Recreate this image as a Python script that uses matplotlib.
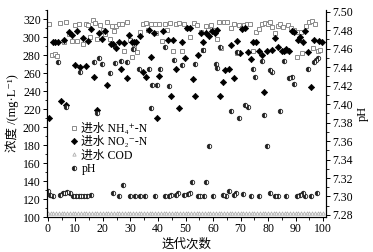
import matplotlib
matplotlib.use("Agg")
import matplotlib.pyplot as plt
from matplotlib.ticker import MultipleLocator

# ---------------- data ----------------
nh4_x = [0.5, 1.5, 2.5, 3.5, 4.6, 5.8, 6.5, 7.8, 8.8, 9.8, 10.5, 11.4, 12.8, 13.7, 14.6, 15.4,
         16.3, 17.3, 18.0, 19.0, 20.0, 20.7, 21.4, 22.5, 23.3, 24.0, 24.8, 25.8, 26.9, 27.7,
         28.7, 29.9, 30.6, 31.3, 32.5, 33.5, 34.5, 35.6, 36.5, 37.4, 38.9, 39.3, 40.3, 41.5,
         42.7, 43.2, 44.4, 45.6, 46.4, 47.5, 48.7, 49.3, 50.5, 51.7, 52.9, 54.3, 55.6, 56.5,
         57.3, 58.3, 59.3, 60.2, 61.4, 62.3, 62.9, 63.8, 65.2, 66.5, 67.7, 68.7, 69.4, 70.5,
         71.3, 72.3, 73.5, 74.5, 75.5, 76.6, 77.6, 78.8, 79.8, 80.7, 81.5, 82.5, 83.5, 84.4,
         85.4, 86.2, 87.3, 88.3, 89.3, 90.3, 90.9, 91.9, 92.3, 93.9, 95.0, 95.8, 96.4, 97.0,
         98.2, 98.9]
nh4_y = [314, 280, 281, 279, 316, 295, 317, 303, 296, 313, 296, 315, 292, 314, 313, 300,
         319, 316, 298, 313, 308, 303, 317, 298, 312, 307, 312, 314, 314, 285,
         317, 297, 278, 288, 283, 306, 314, 316, 308, 314, 314, 305, 315, 296,
         314, 308, 316, 284, 315, 316, 285, 315, 310, 300, 316, 313, 306, 286,
         312, 308, 313, 308, 298, 317, 288, 317, 317, 310, 314, 282, 313, 310,
         313, 314, 314, 284, 306, 309, 314, 316, 314, 317, 311, 305, 312, 314,
         311, 285, 313, 310, 308, 278, 306, 306, 282, 312, 317, 318, 288, 314,
         284, 286]

no2_x = [0.6, 1.8, 2.7, 3.7, 4.7, 5.7, 6.6, 7.7, 8.7, 9.8, 10.6, 11.7, 12.9, 13.7, 14.6, 15.6,
         16.6, 17.8, 18.5, 19.7, 20.6, 21.6, 22.9, 23.8, 24.6, 26.0, 26.7, 27.7, 28.7, 29.6,
         30.6, 31.4, 32.1, 33.5, 34.5, 35.5, 36.7, 37.6, 38.6, 39.8, 40.5, 41.8, 43.7, 44.7,
         45.6, 46.6, 47.8, 48.6, 49.7, 50.7, 51.7, 52.7, 53.6, 54.6, 55.6, 56.5, 57.5, 58.5,
         59.7, 60.7, 61.4, 62.6, 63.6, 64.5, 65.7, 66.5, 67.7, 68.7, 69.6, 70.6, 71.6, 72.8,
         73.6, 74.5, 75.6, 76.7, 77.6, 78.5, 79.4, 81.5, 82.5, 83.7, 84.9, 85.8, 86.6, 87.5,
         88.7, 89.5, 90.7, 91.5, 92.5, 93.4, 94.5, 95.6, 96.7, 98.5, 99.4]
no2_y = [210, 294, 294, 294, 229, 297, 225, 306, 302, 269, 307, 267, 299, 268, 296, 309,
         256, 219, 305, 298, 307, 247, 292, 292, 288, 294, 264, 293, 254, 302,
         294, 294, 295, 301, 261, 256, 308, 278, 305, 210, 257, 307, 297, 234,
         297, 265, 221, 294, 277, 310, 310, 253, 234, 280, 304, 294, 304, 301,
         307, 305, 308, 235, 250, 263, 264, 291, 255, 296, 282, 309, 310, 283,
         276, 295, 295, 284, 280, 239, 285, 286, 299, 289, 285, 285, 287, 284,
         307, 306, 297, 300, 295, 307, 283, 244, 297, 296, 294]

cod_x = list(range(0, 101))
cod_y = [104.5] * 101

ph_x = [-0.1, 0.7, 1.8, 3.7, 4.5, 5.4, 6.2, 6.6, 7.1, 8.1, 9.3, 10.3, 11.3, 11.7, 12.2, 13.2,
        14.2, 15.6, 16.8, 17.8, 18.7, 19.7, 22.4, 23.6, 24.5, 25.8, 26.7, 27.2, 28.7, 29.9,
        31.1, 31.6, 33.0, 33.5, 35.2, 36.7, 37.6, 37.9, 38.9, 39.6, 40.8, 42.5, 42.6, 43.9,
        44.0, 44.9, 45.8, 46.6, 47.3, 48.8, 49.5, 50.8, 51.6, 52.5, 53.6, 54.5, 55.4, 56.5,
        56.7, 57.6, 58.6, 59.8, 60.9, 61.6, 62.6, 63.7, 64.7, 65.6, 66.5, 67.6, 68.5, 68.7,
        69.4, 70.7, 71.6, 72.8, 73.6, 74.5, 75.4, 76.8, 77.6, 78.6, 79.7, 80.5, 80.6, 81.5,
        82.6, 83.5, 84.4, 85.6, 86.5, 87.5, 88.5, 89.5, 90.6, 91.5, 92.5, 93.5, 94.3, 95.4,
        96.6, 97.5, 97.6, 98.2]
ph_y = [7.306, 7.302, 7.301, 7.446, 7.3015, 7.3035, 7.304, 7.397, 7.305, 7.304, 7.301, 7.301,
        7.301, 7.435, 7.301, 7.301, 7.301, 7.3017, 7.445, 7.390, 7.450, 7.443, 7.434, 7.304,
        7.444, 7.301, 7.447, 7.3125, 7.446, 7.301, 7.460, 7.301, 7.438, 7.301, 7.301, 7.4375,
        7.396, 7.421, 7.301, 7.421, 7.438, 7.301, 7.462, 7.420, 7.301, 7.3017, 7.448, 7.3017,
        7.3035, 7.442, 7.3017, 7.3024, 7.3035, 7.316, 7.443, 7.301, 7.301, 7.458, 7.301, 7.3155,
        7.355, 7.301, 7.443, 7.439, 7.462, 7.3017, 7.301, 7.306, 7.392, 7.3017, 7.3035, 7.456,
        7.385, 7.3024, 7.399, 7.397, 7.301, 7.4375, 7.429, 7.301, 7.447, 7.388, 7.355, 7.4365,
        7.3035, 7.435, 7.301, 7.301, 7.392, 7.447, 7.301, 7.428, 7.429, 7.422, 7.301, 7.3017,
        7.3035, 7.301, 7.4375, 7.301, 7.446, 7.448, 7.3035, 7.450]

labels = ["进水 NH\u2084\u207a-N", "进水 NO\u2082\u207b-N", "进水 COD", "pH"]
x_ticks = list(range(0, 101, 10))
left_ticks = list(range(100, 321, 20))
right_ticks = [7.28, 7.30, 7.32, 7.34, 7.36, 7.38, 7.40, 7.42, 7.44, 7.46, 7.48, 7.50]

# ---------------- style ----------------
FAM = ["Liberation Serif", "DejaVu Serif", "Noto Sans CJK SC"]
plt.rcParams["font.family"] = FAM
FS = 8.5

W, H = 373, 252
fig = plt.figure(figsize=(W / 100, H / 100), dpi=100)
ax = fig.add_axes([47 / W, 1 - 217 / H, (326 - 47) / W, (217 - 10) / H])
ax2 = ax.twinx()

h1, = ax.plot(nh4_x, nh4_y, ls="none", marker="s", ms=3.0, mfc="white", mec="#8a8a8a", mew=0.7)
h2, = ax.plot(no2_x, no2_y, ls="none", marker="D", ms=3.2, mfc="black", mec="black", mew=0.5)
h3, = ax.plot(cod_x, cod_y, ls="none", marker="^", ms=2.4, mfc="white", mec="#b0b0b0", mew=0.6)
h4, = ax2.plot(ph_x, ph_y, ls="none", marker="o", ms=3.2, fillstyle="left",
               mfc="#222222", mfcalt="white", mec="#222222", mew=0.6)

ax.set_xlim(-0.3, 101)
ax.set_ylim(100, 330)
ax2.set_ylim(7.2778, 7.5018)

ax.set_xticks(x_ticks)
ax.xaxis.set_minor_locator(MultipleLocator(5))
ax.set_yticks(left_ticks)
ax.yaxis.set_minor_locator(MultipleLocator(10))
ax2.set_yticks(right_ticks)
ax2.set_yticklabels([f"{v:.2f}" for v in right_ticks])
ax2.yaxis.set_minor_locator(MultipleLocator(0.01))

for a in (ax, ax2):
    a.spines["top"].set_visible(False)
    for s in a.spines.values():
        s.set_linewidth(0.8)
    a.tick_params(which="major", direction="out", length=3, width=0.7, labelsize=FS, pad=1.5)
    a.tick_params(which="minor", direction="out", length=1.8, width=0.6)

ax.set_xlabel("迭代次数", fontsize=FS + 0.5, labelpad=2, family=["Noto Sans CJK SC"])
ax.set_ylabel("浓度 /(mg·L\u207b\u00b9)", fontsize=FS + 0.5, labelpad=3)
ax2.set_ylabel("pH", fontsize=FS + 0.5, labelpad=3)

leg = ax.legend([h1, h2, h3, h4], labels, loc="upper left", bbox_to_anchor=(0.06, 0.49),
                frameon=False, fontsize=FS, handlelength=0.6, handletextpad=0.3,
                labelspacing=0.12, borderpad=0.1, markerscale=1.0)

fig.savefig("out.png", dpi=100)
